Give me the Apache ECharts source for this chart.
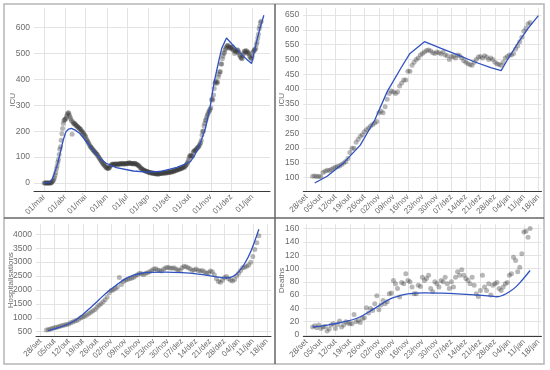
<!DOCTYPE html>
<html>
<head>
<meta charset="utf-8">
<script src="https://cdn.jsdelivr.net/npm/echarts@6/dist/echarts.min.js"></script>
<style>html,body{margin:0;padding:0;background:#fff}#c{width:550px;height:370px}</style>
</head>
<body>
<div id="c"></div>
<script>
// ---------- tick labels ----------
const monthTickDates = ['2020-03-01','2020-04-01','2020-05-01','2020-06-01','2020-07-01','2020-08-01','2020-09-01','2020-10-01','2020-11-01','2020-12-01','2021-01-01'];
const monthTickLabels = ['01/mar','01/abr','01/mai','01/jun','01/jul','01/ago','01/set','01/out','01/nov','01/dez','01/jan'];
const weekTickDates = ['2020-09-28','2020-10-05','2020-10-12','2020-10-19','2020-10-26','2020-11-02','2020-11-09','2020-11-16','2020-11-23','2020-11-30','2020-12-07','2020-12-14','2020-12-21','2020-12-28','2021-01-04','2021-01-11','2021-01-18'];
const weekTickLabels = ['28/set','05/out','12/out','19/out','26/out','02/nov','09/nov','16/nov','23/nov','30/nov','07/dez','14/dez','21/dez','28/dez','04/jan','11/jan','18/jan'];
const icuTicksAll = [0,100,200,300,400,500,600];
const icuTicksZoom = [100,150,200,250,300,350,400,450,500,550,600,650];
const hospTicks = [500,1000,1500,2000,2500,3000,3500,4000];
const deathTicks = [0,20,40,60,80,100,120,140,160];

// ---------- ICU daily observations (from 2020-03-01) ----------
const icuStart = '2020-03-01';
const icuValues = [
  // March
  0,0,0,0,0,0,0,0,0,0,
  0,2,5,8,12,20,30,
  40,55,65,80,90,110,130,
  140,165,190,210,230,240,245,
  // April
  245,250,258,265,270,271,262,
  255,248,240,188,236,232,228,
  230,226,222,220,218,215,212,
  210,208,205,200,198,195,190,
  186,182,
  // May
  178,170,165,160,155,150,145,
  140,138,135,130,127,124,120,
  118,115,112,110,105,100,96,
  92,88,85,80,76,72,70,
  66,63,60,
  // June
  58,57,56,57,60,64,68,
  70,72,73,71,72,70,74,
  73,72,70,72,74,75,73,
  72,74,76,75,73,72,74,
  75,76,
  // July
  74,75,76,78,77,75,76,
  74,75,73,74,76,75,73,
  72,70,68,66,64,60,58,
  56,54,52,50,48,47,46,
  45,44,43,
  // August
  42,41,40,38,40,39,37,
  36,38,37,35,34,36,35,
  34,33,35,36,38,36,37,
  38,36,39,40,38,37,40,
  41,39,42,
  // September
  40,42,43,41,44,45,43,
  46,48,47,50,49,52,51,
  53,55,54,57,56,58,60,
  62,60,64,66,70,75,80,
  88,98,
  // October
  105,106,104,105,103,118,122,
  125,124,128,132,135,138,140,
  145,150,155,165,185,200,200,
  220,230,240,245,255,262,268,
  275,280,285,
  // November
  290,320,325,320,340,365,385,
  393,390,385,390,410,420,430,
  430,460,460,480,490,500,505,
  515,520,525,530,532,528,522,
  520,525,
  // December
  522,518,525,515,512,500,510,
  510,505,515,512,505,495,490,
  485,482,480,490,500,508,510,
  505,512,508,500,505,500,490,
  485,483,480,
  // January
  490,505,510,515,515,520,535,
  545,560,575,595,605,620,625
];
// ICU fitted curve
const icuFitDates = ['2020-03-01','2020-03-09','2020-03-13','2020-03-16','2020-03-19','2020-03-21','2020-03-25','2020-03-29','2020-04-02','2020-04-06','2020-04-10','2020-04-15','2020-04-22','2020-05-02','2020-05-12','2020-05-22','2020-05-31','2020-06-15','2020-07-10','2020-08-01','2020-08-18','2020-09-02','2020-09-12','2020-09-27','2020-10-02','2020-10-08','2020-10-16','2020-10-24','2020-10-31','2020-11-06','2020-11-13','2020-11-17','2020-11-24','2020-12-02','2020-12-10','2020-12-18','2020-12-26','2020-12-31','2021-01-03','2021-01-08','2021-01-13','2021-01-18'];
const icuFitValues = [0,2,15,37,60,76,121,166,198,208,211,205,192,160,127,95,76,59,46,42,44,53,60,76,82,105,150,210,295,391,475,520,560,537,515,492,472,462,498,554,605,648];

// ---------- Hospitalisations daily (from 2020-10-01) ----------
const hospStart = '2020-10-01';
const hospValues = [
  560,580,600,620,640,660,680,
  700,720,740,760,780,820,850,
  880,900,950,1000,1030,1060,1100,
  1150,1200,1250,1300,1380,1450,1500,
  1580,1650,1750,1900,1980,2000,2050,
  2100,2450,2200,2300,2350,2380,2400,
  2420,2450,2500,2550,2600,2580,2550,
  2600,2620,2650,2700,2750,2760,2720,
  2700,2680,2750,2800,2820,2790,2780,
  2800,2750,2720,2700,2800,2850,2830,
  2800,2760,2700,2720,2750,2700,2680,
  2700,2650,2600,2620,2680,2650,2550,
  2400,2300,2280,2350,2450,2480,2400,
  2350,2320,2380,2500,2600,2700,2800,
  2820,2850,2900,3000,3200,3450,3700,
  3950
];
const hospFitDates = ['2020-10-02','2020-10-06','2020-10-11','2020-10-15','2020-10-19','2020-10-23','2020-10-27','2020-10-31','2020-11-05','2020-11-09','2020-11-13','2020-11-17','2020-11-21','2020-11-29','2020-12-07','2020-12-15','2020-12-21','2020-12-26','2020-12-29','2021-01-01','2021-01-04','2021-01-07','2021-01-10','2021-01-14'];
const hospFitValues = [540,620,750,900,1120,1380,1650,1920,2200,2400,2530,2600,2630,2640,2620,2570,2510,2450,2430,2480,2650,2950,3380,4180];

// ---------- Deaths daily (from 2020-10-01) ----------
const deathStart = '2020-10-01';
const deathValues = [
  12,14,11,15,10,12,13,
  6,9,15,17,10,16,21,
  12,15,20,18,17,17,31,
  20,22,19,25,26,41,33,
  40,37,47,59,38,45,52,
  47,50,62,63,82,77,70,
  57,79,77,92,82,80,72,
  62,62,75,73,87,82,85,
  90,70,65,80,77,72,82,
  80,87,77,70,80,72,87,
  95,90,98,90,85,82,77,
  87,75,62,58,67,90,72,
  67,77,60,75,77,79,70,
  67,72,77,79,90,92,117,
  112,95,102,122,155,156,147,
  160
];
const deathFitDates = ['2020-10-01','2020-10-08','2020-10-15','2020-10-23','2020-10-31','2020-11-04','2020-11-08','2020-11-12','2020-11-16','2020-11-24','2020-12-02','2020-12-10','2020-12-18','2020-12-26','2020-12-29','2021-01-01','2021-01-04','2021-01-07','2021-01-10','2021-01-14'];
const deathFitValues = [12,15,19,26,40,48,55,59,62,63.5,63,62,60.5,58.5,57.5,60,65,72,82,97];

// ---------- helpers ----------
const DAY = 864e5;
function ts(s){ const p = s.split('-').map(Number); return Date.UTC(p[0], p[1]-1, p[2]); }
function daily(start, vals){ const t0 = ts(start); return vals.map((v,i)=>[t0 + i*DAY, v]); }
function pairs(dates, vals){ return dates.map((d,i)=>[ts(d), vals[i]]); }
function labelMap(dates, labels){ const m = {}; dates.forEach((d,i)=>{ m[ts(d)] = labels[i]; }); return m; }

const monthMap = labelMap(monthTickDates, monthTickLabels);
const weekMap = labelMap(weekTickDates, weekTickLabels);
const monthVals = monthTickDates.map(ts);
const weekVals = weekTickDates.map(ts);

const FONT = 'Liberation Sans, Arial, sans-serif';
const LBL = '#6b6b6b';
const GRIDC = '#e3e3e3';

function xAxisDef(gi, tickVals, map, min, max){
  return {
    type: 'value', gridIndex: gi, min: min, max: max, scale: true,
    axisLine: {show: true, onZero: false, lineStyle: {color: '#3a3a3a', width: 1}},
    axisTick: {show: false, customValues: tickVals},
    axisLabel: {customValues: tickVals, rotate: 45, margin: 4, fontSize: 8, color: LBL, fontFamily: FONT,
      hideOverlap: false, formatter: v => map[v] || ''},
    splitLine: {show: true, lineStyle: {color: GRIDC, width: 1}}
  };
}
function yAxisDef(gi, tickVals, min, max, name, gap){
  return {
    type: 'value', gridIndex: gi, min: min, max: max,
    name: name, nameLocation: 'middle', nameGap: gap, nameRotate: 90, nameMoveOverlap: false,
    nameTextStyle: {fontSize: 8, color: LBL, fontFamily: FONT},
    axisLine: {show: false, onZero: false},
    axisTick: {show: false, customValues: tickVals},
    axisLabel: {customValues: tickVals, margin: 4, fontSize: 8.5, color: LBL, fontFamily: FONT,
      formatter: v => String(v)},
    splitLine: {show: true, lineStyle: {color: GRIDC, width: 1}}
  };
}
function scatter(i, data){
  return {type: 'scatter', xAxisIndex: i, yAxisIndex: i, data: data, symbolSize: 5,
    itemStyle: {color: 'rgba(55,55,55,0.45)'}, silent: true, z: 2, animation: false};
}
function fit(i, data, smooth){
  return {type: 'line', xAxisIndex: i, yAxisIndex: i, data: data, showSymbol: false, smooth: smooth,
    lineStyle: {color: '#2f52c0', width: 1.3}, silent: true, z: 3, animation: false};
}

const octStart = ts('2020-10-01');
const icuAll = daily(icuStart, icuValues);
const icuFitAll = pairs(icuFitDates, icuFitValues);

const chart = echarts.init(document.getElementById('c'), null, {renderer: 'canvas'});
chart.setOption({
  backgroundColor: '#fff',
  animation: false,
  grid: [
    {left: 34, top: 8, width: 236, height: 183.7, outerBoundsMode: 'none'},
    {left: 303.3, top: 8, width: 238.2, height: 183.7, outerBoundsMode: 'none'},
    {left: 36, top: 224.3, width: 235, height: 111.7, outerBoundsMode: 'none'},
    {left: 303.3, top: 224.3, width: 238.2, height: 112.4, outerBoundsMode: 'none'}
  ],
  xAxis: [
    xAxisDef(0, monthVals, monthMap, ts('2020-02-15'), ts('2021-01-27')),
    xAxisDef(1, weekVals, weekMap, ts('2020-09-26') + DAY/2, ts('2021-01-19') + DAY/2),
    xAxisDef(2, weekVals, weekMap, ts('2020-09-25') + DAY*0.83, ts('2021-01-20')),
    xAxisDef(3, weekVals, weekMap, ts('2020-09-26') + DAY/2, ts('2021-01-19') + DAY/2)
  ],
  yAxis: [
    yAxisDef(0, icuTicksAll, -34, 676, 'ICU', 17.5),
    yAxisDef(1, icuTicksZoom, 52.7, 673.7, 'ICU', 17.8),
    yAxisDef(2, hospTicks, 345, 4360, 'Hospitalisations', 21.5),
    yAxisDef(3, deathTicks, -2.5, 166.4, 'Deaths', 17.8)
  ],
  series: [
    scatter(0, icuAll),
    fit(0, icuFitAll, false),
    scatter(1, icuAll.filter(p => p[0] >= octStart)),
    fit(1, icuFitAll.filter(p => p[0] >= ts('2020-10-02')), false),
    scatter(2, daily(hospStart, hospValues)),
    fit(2, pairs(hospFitDates, hospFitValues), 0.4),
    scatter(3, daily(deathStart, deathValues)),
    fit(3, pairs(deathFitDates, deathFitValues), 0.4)
  ],
  graphic: [
    {type: 'rect', shape: {x: 4, y: 4, width: 540, height: 360}, style: {fill: 'none', stroke: '#b5b5b5', lineWidth: 1.5}, silent: true},
    {type: 'line', shape: {x1: 275, y1: 4, x2: 275, y2: 364}, style: {stroke: '#666', lineWidth: 1.5}, silent: true},
    {type: 'line', shape: {x1: 4, y1: 218, x2: 544, y2: 218}, style: {stroke: '#666', lineWidth: 1.5}, silent: true}
  ]
});
</script>
</body>
</html>
